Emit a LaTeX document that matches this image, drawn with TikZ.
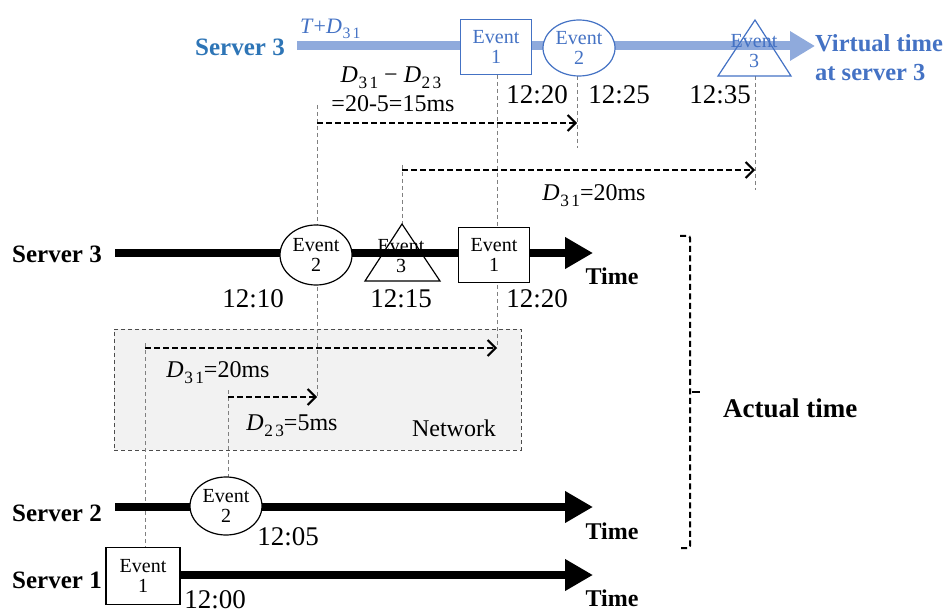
\documentclass[tikz,border=0pt]{standalone}
\usepackage{fontspec}
\usepackage{graphicx}
\setmainfont{Liberation Serif}
\usetikzlibrary{arrows.meta,shapes.geometric}
\definecolor{vblue}{HTML}{4472C4}
\definecolor{vline}{HTML}{8FAADC}
\definecolor{sblue}{HTML}{2E75B6}
\definecolor{netfill}{HTML}{F2F2F2}
\definecolor{guidegray}{HTML}{808080}
% italic D with a spaced, lowered index
\newcommand{\Dsub}[1]{\textit{D}\kern0.5pt\raisebox{-0.25em}{\scalebox{0.72}{\addfontfeature{LetterSpace=14}#1}}}
\begin{document}
\begin{tikzpicture}[x=1pt,y=-1pt,
  evtxt/.style={font=\fontsize{20}{20}\selectfont, align=center, inner sep=0pt},
  evbox/.style={evtxt, draw, fill=white, line width=1.2pt, minimum width=71pt, minimum height=55pt},
  evell/.style={evtxt, draw, fill=white, ellipse, line width=1.2pt, minimum width=72pt, minimum height=59pt},
  tri/.style={line width=1.2pt},
  srvlabel/.style={font=\fontsize{25}{25}\selectfont\bfseries, inner sep=0pt},
  timelabel/.style={font=\fontsize{24}{24}\selectfont\bfseries, inner sep=0pt},
  clock/.style={font=\fontsize{27}{27}\selectfont, inner sep=0pt},
  dlabel/.style={font=\fontsize{24}{24}\selectfont, inner sep=0pt},
  axis/.style={line width=8pt, -{Triangle[length=28pt,width=30pt]}},
  vaxis/.style={vline, line width=9pt, -{Triangle[length=25pt,width=28pt]}},
  dar/.style={line width=2.2pt, dash pattern=on 6pt off 3pt, -{Straight Barb[length=8pt,width=16pt,line width=2pt]}},
  guide/.style={guidegray, line width=0.9pt, dash pattern=on 4pt off 3pt},
  bracket/.style={line width=2pt, dash pattern=on 6pt off 3.5pt}
]
\useasboundingbox (0,0) rectangle (944,609);

% ---------- network region ----------
\node[draw=black!70, fill=netfill, line width=0.9pt, dash pattern=on 4pt off 3pt,
      minimum width=407pt, minimum height=121pt, inner sep=0pt] (net) at (317.5,389.5) {};
\node[dlabel] (netlbl) at (454,428) {Network};

% ---------- anchor points of guides and delay arrows ----------
\coordinate (a1s) at (317,123);  \coordinate (a1e) at (577,123);
\coordinate (a2s) at (402,170);  \coordinate (a2e) at (755,170);
\coordinate (a3s) at (145,348);  \coordinate (a3e) at (497,348);
\coordinate (a4s) at (228,397);  \coordinate (a4e) at (317,397);
\coordinate (g1top) at (317,105);
\coordinate (g2end) at (577,148);
\coordinate (g3end) at (755,190);
\coordinate (g4top) at (402,165);
\coordinate (g5top) at (145,343);
\coordinate (g6top) at (228,390);

% ---------- guides (drawn first, shapes cover them) ----------
\draw[guide] (g1top) -- (a4e);
\draw[guide] (497,75) -- (a3e);
\draw[guide] (577,76) -- (g2end);
\draw[guide] (755,76) -- (g3end);
\draw[guide] (g4top) -- (402,224);
\draw[guide] (g5top) -- (145,548);
\draw[guide] (g6top) -- (228,477);

% ---------- delay arrows ----------
\draw[dar] (a1s) -- (a1e);
\draw[dar] (a2s) -- (a2e);
\draw[dar] (a3s) -- (a3e);
\draw[dar] (a4s) -- (a4e);

\node[dlabel] (l1a) at (391,78) {\Dsub{31} − \Dsub{23}};
\node[dlabel] (l1b) at (393,104) {=20-5=15ms};
\node[dlabel] (l2) at (594,196) {\Dsub{31}=20ms};
\node[dlabel] (l3) at (218,373) {\Dsub{31}=20ms};
\node[dlabel] (l4) at (292,426) {\Dsub{23}=5ms};

% ---------- virtual time at server 3 ----------
\node[srvlabel, sblue, anchor=west] (vs3) at (195,47) {Server 3};
\node[font=\fontsize{22}{22}\selectfont, vblue, inner sep=0pt, anchor=west] (tpd) at (300,29) {\textit{T}+\Dsub{31}};
\coordinate (vend) at (815,46);
\draw[vaxis] (297,46) -- (vend);
\node[vblue, font=\fontsize{24.5}{29}\selectfont\bfseries, align=left, inner sep=0pt, anchor=west] (vtl) at (815,58) {Virtual time\\at server 3};

\node[evbox, draw=vblue, text=vblue] (v1) at (496,47) {Event\\1};
\node[evell, draw=vblue, text=vblue, minimum height=56pt] (v2) at (579,48) {Event\\2};
\draw[tri, vblue] (718,76) -- (755,20) -- (791,76) -- cycle;
\node[evtxt, text=vblue] (v3) at (754,51) {Event\\3};

\node[clock] (c1220v) at (537,95) {12:20};
\node[clock] (c1225) at (619,95) {12:25};
\node[clock] (c1235) at (720,95) {12:35};

% ---------- actual time, server 3 ----------
\node[srvlabel, anchor=west] (s3) at (12,254) {Server 3};
\draw[axis] (115,253) -- (593,253);
\node[timelabel] (t3) at (612,276) {Time};
\node[evell, minimum height=60pt] (e32) at (316,255) {Event\\2};
\draw[tri] (365,281) -- (402,224) -- (440,281) -- cycle;
\node[evtxt] (e33) at (401,256) {Event\\3};
\node[evbox] (e31) at (494,255) {Event\\1};
\node[clock] (c1210) at (253,299) {12:10};
\node[clock] (c1215) at (401,299) {12:15};
\node[clock] (c1220) at (537,299) {12:20};

% ---------- server 2 ----------
\node[srvlabel, anchor=west] (s2) at (12,513) {Server 2};
\draw[axis] (115,507) -- (593,507);
\node[timelabel] (t2) at (612,531) {Time};
\node[evell, minimum height=58pt] (e22) at (226,506) {Event\\2};
\node[clock] (c1205) at (288,537) {12:05};

% ---------- server 1 ----------
\node[srvlabel, anchor=west] (s1) at (12,580) {Server 1};
\node[evbox, minimum width=74pt, minimum height=57pt] (e11) at (143,576) {Event\\1};
\draw[axis] (e11.east |- 0,575) -- (593,575);
\node[timelabel] (t1) at (612,598) {Time};
\node[clock] (c1200) at (215,600) {12:00};

% ---------- actual time bracket ----------
\draw[bracket, rounded corners=2pt] (680,236) -- (690,236) -- (690,548) -- (680,548);
\draw[line width=2pt] (692,392) -- (700,392);
\node[font=\fontsize{27}{27}\selectfont\bfseries, inner sep=0pt, anchor=west] (act) at (723,408) {Actual time};
\end{tikzpicture}
\end{document}
